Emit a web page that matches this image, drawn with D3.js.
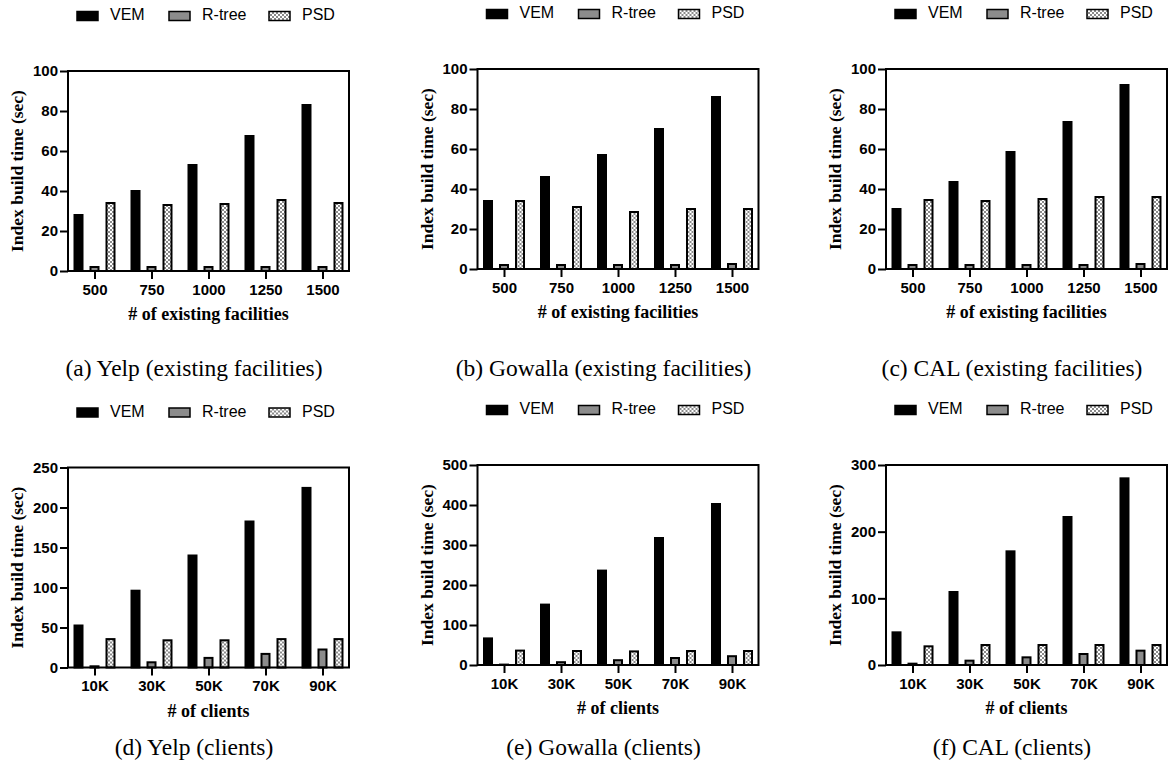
<!DOCTYPE html>
<html lang="en">
<head>
<meta charset="UTF-8">
<title>Index build time</title>
<script src="https://d3js.org/d3.v7.min.js"></script>
<style>
    body { margin: 0; background: #fff; }
    .tick text { font-family: "Liberation Sans", Arial, sans-serif; font-weight: bold; font-size: 15px; fill: #000; }
    .tick line { stroke: #000; stroke-width: 2; }
    .domain { display: none; }
</style>
</head>
<body>
<script>
// categories
const facilities = ["500", "750", "1000", "1250", "1500"];
const clients = ["10K", "30K", "50K", "70K", "90K"];
const seriesNames = ["VEM", "R-tree", "PSD"];

// values per panel: [VEM, R-tree, PSD]
const yelpFacilities = [
    [28, 40, 53, 67.5, 83],
    [2, 2, 2, 2, 2],
    [34, 33, 33.5, 35.5, 34]
];
const gowallaFacilities = [
    [34, 46, 57, 70, 86],
    [2, 2, 2, 2, 2.5],
    [34, 31, 28.5, 30, 30]
];
const calFacilities = [
    [30, 43.5, 58.5, 73.5, 92],
    [2, 2, 2, 2, 2.5],
    [34.5, 34, 35, 36, 36]
];
const yelpClients = [
    [52.5, 96, 140, 182.5, 224.5],
    [1.5, 6.5, 12, 17, 22.5],
    [35.5, 34, 34, 35.5, 35.5]
];
const gowallaClients = [
    [66.5, 151, 236, 317.5, 402.5],
    [1, 7, 12, 17.5, 22],
    [36, 35, 34, 35, 35]
];
const calClients = [
    [49, 109.5, 170.5, 222, 280],
    [2, 6.5, 11.5, 16.5, 21.5],
    [28, 30, 30, 30, 30]
];

// y tick labels
const ticks100 = [0, 20, 40, 60, 80, 100];
const ticks250 = [0, 50, 100, 150, 200, 250];
const ticks500 = [0, 100, 200, 300, 400, 500];
const ticks300 = [0, 100, 200, 300];

const panels = [
    { data: yelpFacilities, cats: facilities, ticks: ticks100, xTitle: "# of existing facilities", caption: "(a) Yelp (existing facilities)", left: 68, top: 71, capY: 376 },
    { data: gowallaFacilities, cats: facilities, ticks: ticks100, xTitle: "# of existing facilities", caption: "(b) Gowalla (existing facilities)", left: 477.5, top: 69, capY: 376 },
    { data: calFacilities, cats: facilities, ticks: ticks100, xTitle: "# of existing facilities", caption: "(c) CAL (existing facilities)", left: 886, top: 69, capY: 376 },
    { data: yelpClients, cats: clients, ticks: ticks250, xTitle: "# of clients", caption: "(d) Yelp (clients)", left: 68, top: 467.5, capY: 755 },
    { data: gowallaClients, cats: clients, ticks: ticks500, xTitle: "# of clients", caption: "(e) Gowalla (clients)", left: 477.5, top: 465, capY: 755 },
    { data: calClients, cats: clients, ticks: ticks300, xTitle: "# of clients", caption: "(f) CAL (clients)", left: 886, top: 465, capY: 755 }
];

const width = 1168, height = 768;
const pw = 281, ph = 200;
const barW = 8, barGap = 16;
const fills = ["#000", "#8c8c8c", "url(#checker)"];
const serif = "'Liberation Serif', 'Times New Roman', serif";
const sans = "'Liberation Sans', Arial, sans-serif";

const svg = d3.select("body").append("svg")
    .attr("width", width)
    .attr("height", height);

// checkered fill for PSD
const pat = svg.append("defs").append("pattern")
    .attr("id", "checker")
    .attr("width", 4).attr("height", 4)
    .attr("patternUnits", "userSpaceOnUse");
pat.append("rect").attr("width", 4).attr("height", 4).attr("fill", "#fff");
pat.append("rect").attr("width", 2).attr("height", 2).attr("fill", "#8a8a8a");
pat.append("rect").attr("x", 2).attr("y", 2).attr("width", 2).attr("height", 2).attr("fill", "#8a8a8a");

panels.forEach(p => {
    const g = svg.append("g").attr("transform", `translate(${p.left},${p.top})`);

    const x = d3.scalePoint().domain(p.cats).range([0, pw]).padding(0.465);
    const y = d3.scaleLinear().domain([0, d3.max(p.ticks)]).range([ph, 0]);

    // bars
    p.data.forEach((vals, s) => {
        g.append("g").selectAll("rect")
            .data(vals)
            .join("rect")
            .attr("x", (d, i) => x(p.cats[i]) + (s - 1) * barGap - barW / 2)
            .attr("y", d => y(d))
            .attr("width", barW)
            .attr("height", d => y(0) - y(d))
            .attr("fill", fills[s])
            .attr("stroke", "#000")
            .attr("stroke-width", 2);
    });

    // frame
    g.append("rect")
        .attr("width", pw).attr("height", ph)
        .attr("fill", "none")
        .attr("stroke", "#000")
        .attr("stroke-width", 2);

    g.append("g")
        .call(d3.axisLeft(y).tickValues(p.ticks).tickSize(8).tickPadding(2));

    g.append("g")
        .attr("transform", `translate(0,${ph})`)
        .call(d3.axisBottom(x).tickSize(8).tickPadding(5));

    // axis titles
    g.append("text")
        .attr("transform", `translate(-49,${ph / 2}) rotate(-90)`)
        .attr("text-anchor", "middle")
        .attr("dominant-baseline", "middle")
        .style("font-family", serif)
        .style("font-weight", "bold")
        .style("font-size", "17.5px")
        .text("Index build time (sec)");

    g.append("text")
        .attr("x", pw / 2)
        .attr("y", ph + 45)
        .attr("text-anchor", "middle")
        .attr("dominant-baseline", "middle")
        .style("font-family", serif)
        .style("font-weight", "bold")
        .style("font-size", "18px")
        .text(p.xTitle);

    // caption
    g.append("text")
        .attr("x", pw / 2 - 14.5)
        .attr("y", p.capY - p.top)
        .attr("text-anchor", "middle")
        .style("font-family", serif)
        .style("font-size", "23.5px")
        .text(p.caption);

    // legend
    const legendX = [9, 101, 201];
    const lg = g.append("g").attr("transform", "translate(0,-55)");
    seriesNames.forEach((name, s) => {
        lg.append("rect")
            .attr("x", legendX[s]).attr("y", -4.5)
            .attr("width", 21).attr("height", 9)
            .attr("fill", fills[s])
            .attr("stroke", "#000")
            .attr("stroke-width", 1.5);
        lg.append("text")
            .attr("x", legendX[s] + 33)
            .attr("y", 0)
            .attr("dominant-baseline", "middle")
            .style("font-family", sans)
            .style("font-size", "16px")
            .text(name);
    });
});
</script>
</body>
</html>
